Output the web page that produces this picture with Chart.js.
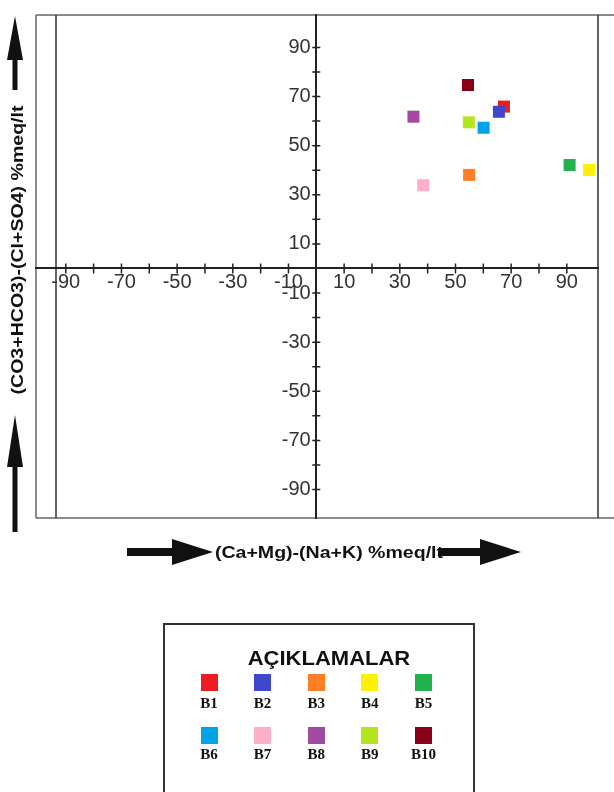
<!DOCTYPE html>
<html>
<head>
<meta charset="utf-8">
<script src="https://cdn.jsdelivr.net/npm/chart.js@4.4.0/dist/chart.umd.min.js"></script>
<style>
  html, body { margin: 0; padding: 0; background: #fff; }
  body { width: 614px; height: 792px; position: relative; overflow: hidden; font-family: "Liberation Sans", Arial, sans-serif; color: #111; }
  #chart { position: absolute; left: 0; top: 0; }
  #arrows { position: absolute; left: 0; top: 0; }
  .title { position: absolute; white-space: nowrap; font-weight: bold; font-size: 17px; line-height: 1; }
  #ytitle { left: 17px; top: 250px; transform: translate(-50%, -50%) rotate(-90deg) scaleX(1.15); }
  #xtitle { left: 329px; top: 552px; transform: translate(-50%, -50%) scaleX(1.15); }
  #legend { position: absolute; left: 163px; top: 623px; width: 308px; height: 200px; border: 2px solid #333; }
  #legend .head { position: absolute; left: 164px; top: 33px; transform: translate(-50%, -50%) scaleX(1.1); font-weight: bold; font-size: 20px; white-space: nowrap; }
  #legend .sq { position: absolute; width: 17px; height: 17px; }
  #legend .lab { position: absolute; transform: translate(-50%, -50%); font-family: "Liberation Serif", "Times New Roman", serif; font-weight: bold; font-size: 15px; white-space: nowrap; }
</style>
</head>
<body>
<canvas id="chart" width="614" height="792"></canvas>
<svg id="arrows" width="614" height="792">
  <polygon points="15,16 23,60 17.5,60 17.5,90 12.5,90 12.5,60 7,60" fill="#111"/>
  <polygon points="15,415 23,467 17.5,467 17.5,532 12.5,532 12.5,467 7,467" fill="#111"/>
  <polygon points="127,548 172,548 172,539 213,552 172,565 172,556 127,556" fill="#111"/>
  <polygon points="438,548 480,548 480,539 521,552 480,565 480,556 438,556" fill="#111"/>
</svg>
<div class="title" id="ytitle">(CO3+HCO3)-(Cl+SO4) %meq/lt</div>
<div class="title" id="xtitle">(Ca+Mg)-(Na+K) %meq/lt</div>
<div id="legend"><div class="head">AÇIKLAMALAR</div></div>
<script>
const names = ["B1", "B2", "B3", "B4", "B5", "B6", "B7", "B8", "B9", "B10"]
const colors = ["#ed1c24", "#3f48cc", "#ff7f27", "#fff200", "#22b14c", "#00a2e8", "#ffaec9", "#a349a4", "#b5e61d", "#880015"]
const xValues = [67.4, 65.6, 54.9, 98.0, 91.0, 60.1, 38.4, 34.9, 54.8, 54.5]
const yValues = [65.9, 63.8, 38.1, 40.1, 42.1, 57.3, 33.9, 61.8, 59.5, 74.7]

const xTicks = [-90, -80, -70, -60, -50, -40, -30, -20, -10, 10, 20, 30, 40, 50, 60, 70, 80, 90]
const xLabels = [-90, -70, -50, -30, -10, 10, 30, 50, 70, 90]
const yTicks = [-90, -80, -70, -60, -50, -40, -30, -20, -10, 10, 20, 30, 40, 50, 60, 70, 80, 90]
const yLabels = [-90, -70, -50, -30, -10, 10, 30, 50, 70, 90]

const xRange = [-100.7, 101.2]
const yRange = [-101.6, 103.2]

const tickFont = { family: "'Liberation Sans', Arial", size: 20 }

// legend built from the same arrays
const legend = document.getElementById("legend")
names.forEach((name, i) => {
  const col = i % 5, row = Math.floor(i / 5)
  const cx = 44 + col * 53.6
  const sq = document.createElement("div")
  sq.className = "sq"
  sq.style.background = colors[i]
  sq.style.left = (cx - 8.5) + "px"
  sq.style.top = (row ? 102 : 49) + "px"
  legend.appendChild(sq)
  const lab = document.createElement("div")
  lab.className = "lab"
  lab.textContent = name
  lab.style.left = cx + "px"
  lab.style.top = (row ? 129 : 78) + "px"
  legend.appendChild(lab)
})

const frame = {
  id: "frame",
  beforeDraw(chart) {
    const { ctx, chartArea: a, width } = chart
    ctx.save()
    ctx.lineWidth = 1.5
    ctx.strokeStyle = "#666"
    ctx.beginPath()
    ctx.moveTo(a.left, a.top); ctx.lineTo(a.left, a.bottom)
    ctx.moveTo(a.left, a.top); ctx.lineTo(width, a.top)
    ctx.moveTo(a.left, a.bottom); ctx.lineTo(width, a.bottom)
    ctx.stroke()
    ctx.strokeStyle = "#333"
    ctx.beginPath()
    ctx.moveTo(a.left + 20, a.top); ctx.lineTo(a.left + 20, a.bottom)
    ctx.moveTo(a.right, a.top); ctx.lineTo(a.right, a.bottom)
    ctx.stroke()
    ctx.restore()
  }
}

// tick marks cross the axis lines
const crossTicks = {
  id: "crossTicks",
  beforeDatasetsDraw(chart) {
    const { ctx, scales } = chart
    const axisY = scales.y.getPixelForValue(0)
    const axisX = scales.x.getPixelForValue(0)
    ctx.save()
    ctx.strokeStyle = "#222"
    ctx.lineWidth = 1.5
    ctx.beginPath()
    scales.x.ticks.forEach((t) => {
      const px = scales.x.getPixelForValue(t.value)
      ctx.moveTo(px, axisY - 5); ctx.lineTo(px, axisY + 5)
    })
    scales.y.ticks.forEach((t) => {
      const py = scales.y.getPixelForValue(t.value)
      ctx.moveTo(axisX - 4, py); ctx.lineTo(axisX + 4, py)
    })
    ctx.stroke()
    ctx.restore()
  }
}

// y labels sit right against the axis in Chart.js, a trailing space gives the gap
const tickOpts = (labels, pad, tail) => ({
  autoSkip: false,
  maxRotation: 0,
  color: "#333",
  font: tickFont,
  padding: pad,
  callback: (v) => labels.includes(v) ? String(v) + tail : ""
})

new Chart(document.getElementById("chart"), {
  type: "scatter",
  data: {
    datasets: [{
      data: xValues.map((x, i) => ({ x, y: yValues[i] })),
      pointStyle: "rect",
      pointRadius: 8.5,
      pointHoverRadius: 8.5,
      borderWidth: 0,
      backgroundColor: colors,
      pointBackgroundColor: colors
    }]
  },
  options: {
    responsive: false,
    animation: false,
    events: [],
    layout: { padding: { left: 36, top: 15, right: 16, bottom: 274 } },
    plugins: { legend: { display: false }, tooltip: { enabled: false } },
    scales: {
      x: {
        type: "linear",
        min: xRange[0], max: xRange[1],
        position: { y: 0 },
        grid: { display: false },
        border: { display: true, color: "#222", width: 2 },
        afterBuildTicks: (s) => { s.ticks = xTicks.map((value) => ({ value })) },
        ticks: tickOpts(xLabels, -6, "")
      },
      y: {
        type: "linear",
        min: yRange[0], max: yRange[1],
        position: { x: 0 },
        grid: { display: false },
        border: { display: true, color: "#222", width: 2 },
        afterBuildTicks: (s) => { s.ticks = yTicks.map((value) => ({ value })) },
        ticks: tickOpts(yLabels, 0, " ")
      }
    }
  },
  plugins: [frame, crossTicks]
})
</script>
</body>
</html>
